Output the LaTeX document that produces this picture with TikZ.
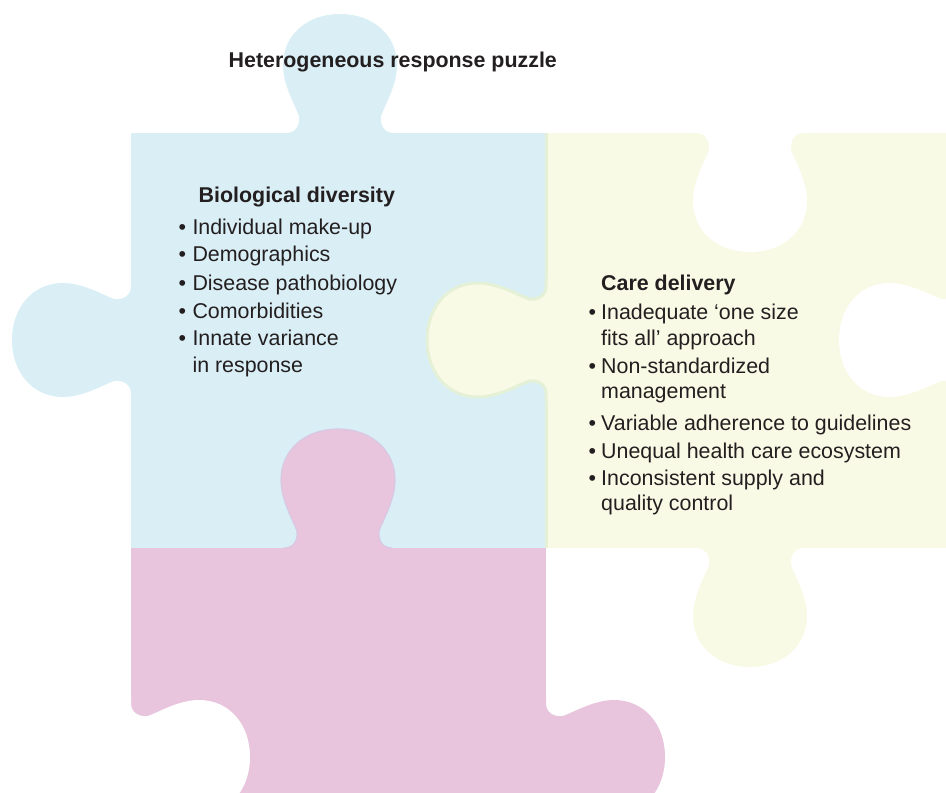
\documentclass[tikz,border=0pt]{standalone}
\usepackage{fontspec}
\setmainfont{Liberation Sans}
\definecolor{pzblue}{RGB}{218,238,245}
\definecolor{pzyellow}{RGB}{248,250,229}
\definecolor{pzpink}{RGB}{232,197,220}
\definecolor{pzedge}{RGB}{229,241,214}
\definecolor{pzshade}{RGB}{216,200,228}
\definecolor{txtcol}{RGB}{35,31,32}
% filled knob: #1 colour, #2 base centre, #3 rotation (0 = pointing up)
\newcommand\pzknob[3]{\fill[#1,shift={#2},rotate=#3] (-62,6) -- (-62,0) -- (-54,0)
  .. controls (-44,0) and (-40,-8) .. (-41,-17)
  .. controls (-45,-28) and (-57,-48) .. (-57,-68)
  .. controls (-57,-98) and (-33,-119) .. (0,-119)
  .. controls (33,-119) and (57,-98) .. (57,-68)
  .. controls (57,-48) and (45,-28) .. (41,-17)
  .. controls (40,-8) and (44,0) .. (54,0) -- (62,0) -- (62,6) -- cycle;}
% outline of a knob
\newcommand\pzline[3]{\draw[#1,shift={#2},rotate=#3] (-62,0) -- (-54,0)
  .. controls (-44,0) and (-40,-8) .. (-41,-17)
  .. controls (-45,-28) and (-57,-48) .. (-57,-68)
  .. controls (-57,-98) and (-33,-119) .. (0,-119)
  .. controls (33,-119) and (57,-98) .. (57,-68)
  .. controls (57,-48) and (45,-28) .. (41,-17)
  .. controls (40,-8) and (44,0) .. (54,0) -- (62,0);}
\newcommand\pzlineb[3]{\draw[#1,shift={#2},rotate=#3] (-54,0)
  .. controls (-44,0) and (-40,-8) .. (-41,-17)
  .. controls (-45,-28) and (-57,-48) .. (-57,-68)
  .. controls (-57,-98) and (-33,-119) .. (0,-119)
  .. controls (33,-119) and (57,-98) .. (57,-68)
  .. controls (57,-48) and (45,-28) .. (41,-17)
  .. controls (40,-8) and (44,0) .. (54,0);}
\begin{document}
\begin{tikzpicture}[x=1pt,y=-1pt,
  txt/.style={font=\fontsize{21.4}{25}\selectfont, anchor=base west, inner sep=0pt, text=txtcol},
  hd/.style={txt, font=\fontsize{21.4}{25}\selectfont\bfseries}]
\useasboundingbox (0,0) rectangle (946,793);
\begin{scope}
\clip (0,0) rectangle (946,793);
% blue piece
\fill[pzblue] (131,133) rectangle (546,548);
\pzknob{pzblue}{(340,133)}{0}
\pzknob{pzblue}{(131,340)}{90}
% yellow piece
\fill[pzyellow] (546,133) rectangle (961,548);
\pzknob{pzyellow}{(546,340)}{90}
\pzknob{pzyellow}{(750,548)}{180}
\pzknob{white}{(750,133)}{180}
\pzknob{white}{(958,340)}{90}
\draw[pzedge, line width=3pt] (546,133) -- (546,278);
\draw[pzedge, line width=3pt] (546,402) -- (546,548);
\pzline{pzedge, line width=3pt}{(546,340)}{90}
% pink piece
\fill[pzpink] (131,548) rectangle (546,963);
\pzknob{pzpink}{(338,548)}{0}
\pzknob{pzpink}{(546,757)}{-90}
\pzknob{white}{(131,757)}{-90}
\pzlineb{pzshade, line width=1.2pt}{(338,548)}{0}
\end{scope}
% texts
\node[hd] (title) at (228.5,67.3) {Heterogeneous response puzzle};
\node[hd] (bioh) at (198.5,202.3) {Biological diversity};
\node[txt] (bb1) at (178.5,234) {•};
\node[txt] (b1) at (192.3,234) {Individual make-up};
\node[txt] (bb2) at (178.5,261.7) {•};
\node[txt] (b2) at (192.3,261.7) {Demographics};
\node[txt] (bb3) at (178.5,290) {•};
\node[txt] (b3) at (192.3,290) {Disease pathobiology};
\node[txt] (bb4) at (178.5,318) {•};
\node[txt] (b4) at (192.3,318) {Comorbidities};
\node[txt] (bb5) at (178.5,345.7) {•};
\node[txt] (b5) at (192.3,345.7) {Innate variance};
\node[txt] (b5b) at (192.3,372.7) {in response};
\node[hd] (careh) at (601,290) {Care delivery};
\node[txt] (cb1) at (588.5,319.3) {•};
\node[txt] (c1) at (601,319.3) {Inadequate ‘one size};
\node[txt] (c1b) at (601,345) {fits all’ approach};
\node[txt] (cb2) at (588.5,373.3) {•};
\node[txt] (c2) at (601,373.3) {Non-standardized};
\node[txt] (c2b) at (601,398.3) {management};
\node[txt] (cb3) at (588.5,430) {•};
\node[txt] (c3) at (601,430) {Variable adherence to guidelines};
\node[txt] (cb4) at (588.5,458.3) {•};
\node[txt] (c4) at (601,458.3) {Unequal health care ecosystem};
\node[txt] (cb5) at (588.5,485) {•};
\node[txt] (c5) at (601,485) {Inconsistent supply and};
\node[txt] (c5b) at (601,510.7) {quality control};
\end{tikzpicture}
\end{document}
